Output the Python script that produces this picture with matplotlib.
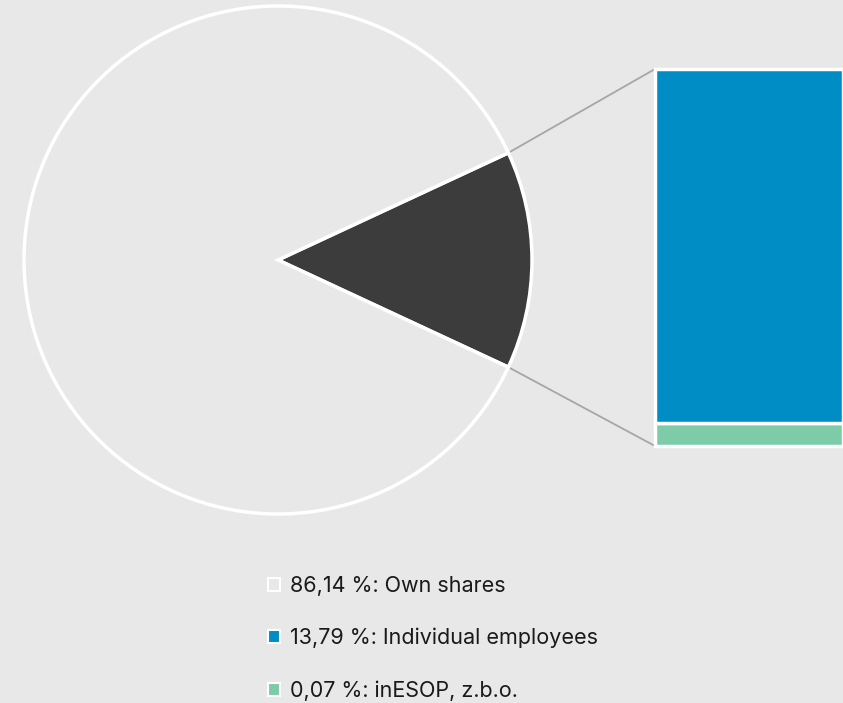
import matplotlib.pyplot as plt
from matplotlib.patches import Patch, ConnectionPatch
import numpy as np

plt.rcParams["font.family"] = ["Inter", "DejaVu Sans"]

# data
labels = ["Own shares", "Individual employees", "inESOP, z.b.o."]
values = [86.14, 13.79, 0.07]
colors = ["#e8e8e8", "#008cc4", "#7ecbaa"]
dark = "#3c3c3c"
bg = "#e8e8e8"

rest = values[1] + values[2]
pie_vals = [rest, values[0]]
half = rest / 100 * 360 / 2

fig = plt.figure(figsize=(8.43, 7.03), dpi=100, facecolor=bg)

# pie
ax1 = fig.add_axes([24 / 843, 189 / 703, 508 / 843, 508 / 703])
ax1.set_facecolor(bg)
wedges, _ = ax1.pie(pie_vals, colors=[dark, bg], startangle=-half, counterclock=True,
                    wedgeprops=dict(edgecolor="white", linewidth=2.5))
for w in wedges:
    w.set_clip_on(False)
ax1.set_xlim(-1, 1)
ax1.set_ylim(-1, 1)
ax1.axis("off")

# bar of the pie (small value gets a minimum visible height)
ax2 = fig.add_axes([655 / 843, 257 / 703, 188 / 843, 377 / 703])
sub = [values[2], values[1]]
sub_h = [max(v, rest * 0.065) for v in sub]
bottom = 0
for h, c in zip(sub_h, [colors[2], colors[1]]):
    b = ax2.bar(0.5, h, width=1, bottom=bottom, color=c, edgecolor="white", linewidth=2.5)
    for p in b:
        p.set_clip_on(False)
    bottom += h
ax2.set_xlim(0, 1)
ax2.set_ylim(0, bottom)
ax2.axis("off")

# connector lines
for ang, yb in [(half, 1), (-half, 0)]:
    xa = np.cos(np.radians(ang))
    ya = np.sin(np.radians(ang))
    con = ConnectionPatch(xyA=(xa, ya), coordsA="data", axesA=ax1,
                          xyB=(0, yb), coordsB="axes fraction", axesB=ax2,
                          color="#a6a6a6", linewidth=1.3, zorder=0)
    fig.add_artist(con)

# legend
handles = [Patch(facecolor=c, edgecolor="white", linewidth=1.5) for c in colors]
texts = ["%s %%: %s" % (f"{v:.2f}".replace(".", ","), l) for v, l in zip(values, labels)]
fig.legend(handles, texts, loc="upper left", bbox_to_anchor=(268 / 843, 1 - 576 / 703),
           frameon=False, fontsize=15.5, handlelength=0.55, handleheight=0.55,
           handletextpad=0.47, labelspacing=1.48, borderpad=0, borderaxespad=0,
           labelcolor="#1a1a1a")

fig.savefig("out.png", dpi=100, facecolor=bg)
